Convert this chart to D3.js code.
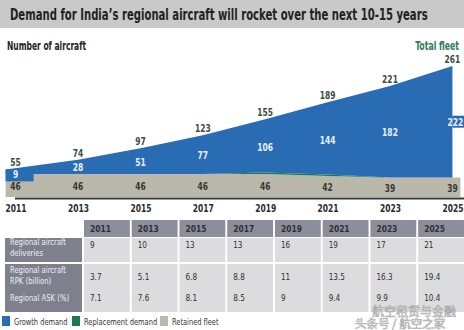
<!DOCTYPE html>
<html lang="en">
<head>
<meta charset="UTF-8"/>
<title>Regional aircraft demand</title>
<style>
  body { margin: 0; background: #fff; }
  svg text { font-family: "DejaVu Sans Condensed", "Liberation Sans Narrow", sans-serif; }
</style>
</head>
<body>
<svg id="chart" width="464" height="330"></svg>
<script src="https://cdn.jsdelivr.net/npm/d3@7/dist/d3.min.js"></script>
<script>
// data
var years       = [2011, 2013, 2015, 2017, 2019, 2021, 2023, 2025];
var growth      = [9, 28, 51, 77, 106, 144, 182, 222];
var replacement = [0, 0, 0, 0, 3, 3, 0, 0];
var retained    = [46, 46, 46, 46, 46, 42, 39, 39];
var totals      = [55, 74, 97, 123, 155, 189, 221, 261];

var rowLabels  = [["Regional aircraft", "deliveries"], ["Regional aircraft", "RPK (billion)"], ["Regional ASK (%)"]];
var deliveries = ["9", "10", "13", "13", "16", "19", "17", "21"];
var rpk        = ["3.7", "5.1", "6.8", "8.8", "11", "13.5", "16.3", "19.4"];
var ask        = ["7.1", "7.6", "8.1", "8.5", "9", "9.4", "9.9", "10.4"];

var legendNames  = ["Growth demand", "Replacement demand", "Retained fleet"];
var legendColors = ["#2a6cb4", "#1d7a50", "#b9b8aa"];

var svg = d3.select("#chart");

// fake a narrow font: move x/y into a transform and squeeze horizontally
function squeeze(sel, s) {
  sel.each(function() {
    var t = d3.select(this);
    var tx = +t.attr("x") || 0, ty = +t.attr("y") || 0;
    t.attr("x", null).attr("y", null)
     .attr("transform", "translate(" + tx + "," + ty + ") scale(" + s + ",1)");
  });
  return sel;
}

// title bar
svg.append("rect").attr("x", 0).attr("y", 0).attr("width", 464).attr("height", 28).attr("fill", "#c9c9c9");
squeeze(svg.append("text").attr("x", 10).attr("y", 20)
    .attr("font-size", 16.5).attr("font-weight", "bold").attr("fill", "#222")
    .text("Demand for India\u2019s regional aircraft will rocket over the next 10-15 years"), 0.68);

squeeze(svg.append("text").attr("x", 7).attr("y", 50)
    .attr("font-size", 12).attr("font-weight", "bold").attr("fill", "#222")
    .text("Number of aircraft"), 0.7);
squeeze(svg.append("text").attr("x", 459).attr("y", 50).attr("text-anchor", "end")
    .attr("font-size", 12).attr("font-weight", "bold").attr("fill", "#2f7a58")
    .text("Total fleet"), 0.72);

// scales
var x = d3.scaleLinear().domain([2011, 2025]).range([15.6, 452.4]);
var y = d3.scaleLinear().domain([0, 261]).range([197, 66]);

var rows = years.map(function(yr, i) {
  return { year: yr, retained: retained[i], replacement: replacement[i], growth: growth[i] };
});
var layers = d3.stack().keys(["retained", "replacement", "growth"])(rows);
var fills = { retained: legendColors[2], replacement: legendColors[1], growth: legendColors[0] };

var n = years.length;
function xPad(d, i, right) {
  var px = x(d.data.year);
  if (i === 0) px -= 10;
  if (i === n - 1) px += right;
  return px;
}

layers.forEach(function(layer) {
  var right = layer.key === "retained" ? 8 : 0;
  var area = d3.area()
      .x(function(d, i) { return xPad(d, i, right); })
      .y0(function(d) { return y(d[0]); })
      .y1(function(d) { return y(d[1]); });
  svg.append("path").datum(layer).attr("fill", fills[layer.key]).attr("d", area);
});

// blue label boxes at both ends, where the band is too thin or too narrow
svg.append("rect").attr("x", x(years[0]) - 10).attr("y", y(totals[0]))
    .attr("width", 28).attr("height", 12).attr("fill", legendColors[0]);
svg.append("rect").attr("x", x(years[n - 1])).attr("y", y((totals[n - 1] + retained[n - 1]) / 2) - 6)
    .attr("width", 464 - x(years[n - 1])).attr("height", 12).attr("fill", legendColors[0]);

// baseline
svg.append("line").attr("x1", 15).attr("x2", 464).attr("y1", y(0) + 1.5).attr("y2", y(0) + 1.5)
    .attr("stroke", "#3a3a3a").attr("stroke-width", 2);

// year axis
var axis = d3.axisBottom(x).tickValues(years).tickFormat(d3.format("d")).tickSize(0).tickPadding(6);
var ax = svg.append("g").attr("transform", "translate(0," + (y(0) + 2) + ")").call(axis);
ax.select(".domain").remove();
ax.selectAll("text").attr("font-size", 10.5).attr("font-weight", "bold").attr("fill", "#2a2a2a")
    .style("font-family", "'DejaVu Sans Condensed',sans-serif");
squeeze(ax.selectAll("text"), 0.8);

// value labels
squeeze(svg.selectAll(".tot").data(totals).enter().append("text")
    .attr("x", function(d, i) { return x(years[i]); })
    .attr("y", function(d) { return y(d) - 3; })
    .attr("text-anchor", "middle").attr("font-size", 10.5).attr("font-weight", "bold").attr("fill", "#3b4d44")
    .text(function(d) { return d; }), 0.8);

squeeze(svg.selectAll(".grw").data(growth).enter().append("text")
    .attr("x", function(d, i) { return i === n - 1 ? x(years[i]) + 3 : x(years[i]); })
    .attr("y", function(d, i) { return Math.max(y((totals[i] + retained[i]) / 2) + 1, y(totals[i]) + 5) + 3.5; })
    .attr("text-anchor", "middle").attr("font-size", 10.5).attr("font-weight", "bold").attr("fill", "#e8f0fa")
    .text(function(d) { return d; }), 0.8);

squeeze(svg.selectAll(".ret").data(retained).enter().append("text")
    .attr("x", function(d, i) { return x(years[i]); })
    .attr("y", function(d) { return y(d / 2) + 4.5; })
    .attr("text-anchor", "middle").attr("font-size", 10.5).attr("font-weight", "bold").attr("fill", "#3a3530")
    .text(function(d) { return d; }), 0.8);

// table
var col = d3.scaleBand().domain(years).range([84, 464]).paddingInner(0.04).paddingOuter(0);
var rowTop = [220, 238, 264];
var rowBot = [237, 262, 312];

svg.selectAll(".hdr").data(years).enter().append("rect")
    .attr("x", function(d) { return col(d); }).attr("y", rowTop[0])
    .attr("width", col.bandwidth()).attr("height", rowBot[0] - rowTop[0])
    .attr("fill", "#8b8e9b");
squeeze(svg.selectAll(".hdrt").data(years).enter().append("text")
    .attr("x", function(d) { return col(d) + 6; }).attr("y", 232)
    .attr("font-size", 9.5).attr("font-weight", "bold").attr("fill", "#2e3038")
    .text(function(d) { return d; }), 0.88);

[1, 2].forEach(function(r) {
  svg.append("rect").attr("x", 5).attr("y", rowTop[r]).attr("width", 77).attr("height", rowBot[r] - rowTop[r])
      .attr("fill", "#7e818d");
  svg.selectAll(".cell" + r).data(years).enter().append("rect")
      .attr("x", function(d) { return col(d); }).attr("y", rowTop[r])
      .attr("width", col.bandwidth()).attr("height", rowBot[r] - rowTop[r])
      .attr("fill", "#dcdcdf");
});

var labelLines = [[245, 256], [273, 284], [301]];
rowLabels.forEach(function(lines, r) {
  lines.forEach(function(t, k) {
    squeeze(svg.append("text").attr("x", 10).attr("y", labelLines[r][k])
        .attr("font-size", 9.5).attr("fill", "#eef0f4").text(t), 0.8);
  });
});

var cellRows = [[deliveries, 248], [rpk, 280], [ask, 301]];
cellRows.forEach(function(cr) {
  squeeze(svg.selectAll(null).data(cr[0]).enter().append("text")
      .attr("x", function(d, i) { return col(years[i]) + 6; }).attr("y", cr[1])
      .attr("font-size", 9.5).attr("fill", "#2e2e2e")
      .text(function(d) { return d; }), 0.85);
});

// legend
var legX = [2, 72, 160];
legendNames.forEach(function(name, i) {
  svg.append("rect").attr("x", legX[i]).attr("y", 316).attr("width", 8).attr("height", 10).attr("fill", legendColors[i]);
  squeeze(svg.append("text").attr("x", legX[i] + 12).attr("y", 325)
      .attr("font-size", 9.5).attr("fill", "#333").text(name), 0.78);
});

// watermark
svg.append("text").attr("x", 372).attr("y", 316).attr("font-size", 12)
    .attr("fill", "#fff").attr("stroke", "#999").attr("stroke-width", 0.6).attr("opacity", 0.8)
    .style("font-family", "'Noto Sans CJK SC',sans-serif").text("航空租赁与金融");
svg.append("text").attr("x", 355).attr("y", 328).attr("font-size", 11.5)
    .attr("fill", "#fff").attr("stroke", "#999").attr("stroke-width", 0.6).attr("opacity", 0.8)
    .style("font-family", "'Noto Sans CJK SC',sans-serif").text("头条号 / 航空之家");
</script>
</body>
</html>
